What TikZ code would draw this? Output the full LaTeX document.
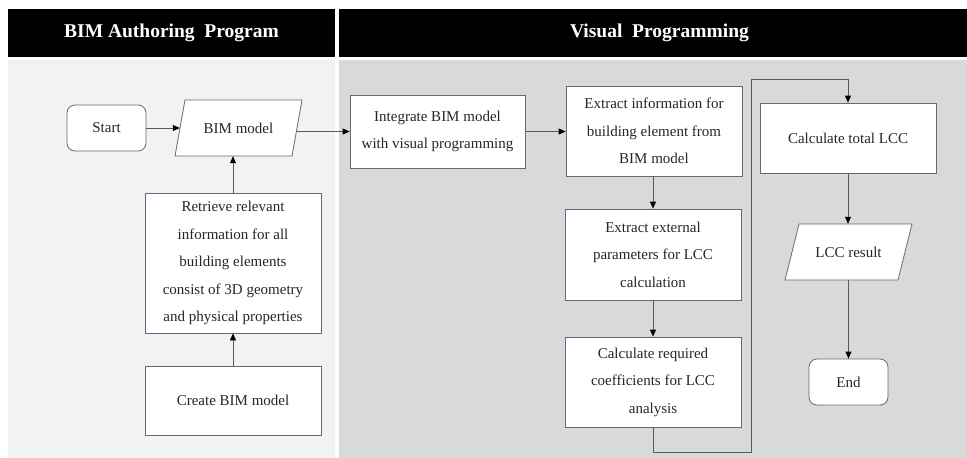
\documentclass[tikz,border=0pt]{standalone}
\usepackage{fontspec}
\setmainfont{Liberation Serif}
\usetikzlibrary{arrows.meta}
\definecolor{boxline}{HTML}{5B6B82}
\definecolor{linkline}{HTML}{595959}
\definecolor{leftbg}{HTML}{F2F2F2}
\definecolor{rightbg}{HTML}{D9D9D9}
\begin{document}
\begin{tikzpicture}[x=1pt,y=-1pt,
  every node/.style={font=\fontsize{15}{27.5}\selectfont, text=black!85},
  procbox/.style={draw=boxline, line width=0.8pt, fill=white, align=center, inner sep=0pt},
  termbox/.style={procbox, rounded corners=8pt},
  ioframe/.style={draw=boxline, line width=0.8pt, fill=white},
  iotext/.style={align=center, inner sep=0pt},
  link/.style={draw=linkline, line width=0.8pt, -{Triangle[length=7pt,width=6pt,color=black]}},
  headtext/.style={text=white, font=\bfseries\fontsize{19.5}{22}\selectfont}
]
% canvas and lane backgrounds
\fill[white] (0,0) rectangle (967,458);
\useasboundingbox (0,0) rectangle (967,458);
\fill[black] (8,9) rectangle (335,57);
\fill[black] (339,9) rectangle (967,57);
\fill[leftbg] (8,60) rectangle (335,458);
\fill[rightbg] (339,60) rectangle (967,458);
\node[headtext] (hleft) at (171.5,33) {BIM Authoring\ \ Program};
\node[headtext] (hright) at (659.5,33) {Visual\ \ Programming};

% BIM authoring lane
\node[termbox, minimum width=79, minimum height=46] (start) at (106.5,128) {Start};
\path[ioframe] (175,156) -- (185,100) -- (302,100) -- (292,156) -- cycle;
\node[iotext, minimum width=117, minimum height=56] (bim) at (238.5,128) {BIM model};
\node[procbox, minimum width=176, minimum height=140] (retrieve) at (233,263)
  {Retrieve relevant\\information for all\\building elements\\consist of 3D geometry\\and physical properties};
\node[procbox, minimum width=176, minimum height=69] (create) at (233,400.5) {Create BIM model};

% visual programming lane
\node[procbox, minimum width=175, minimum height=73] (integ) at (437.5,131.5)
  {Integrate BIM model\\with visual programming};
\node[procbox, minimum width=176, minimum height=90] (extinfo) at (654,131)
  {Extract information for\\building element from\\BIM model};
\node[procbox, minimum width=176, minimum height=91] (extpar) at (653,254.5)
  {Extract external\\parameters for LCC\\calculation};
\node[procbox, minimum width=176, minimum height=90] (calcreq) at (653,382)
  {Calculate required\\coefficients for LCC\\analysis};
\node[procbox, minimum width=176, minimum height=70] (calctot) at (848,138) {Calculate total LCC};
\path[ioframe] (785,280) -- (799,224) -- (912,224) -- (898,280) -- cycle;
\node[iotext, minimum width=113, minimum height=56] (result) at (848.5,252) {LCC result};
\node[termbox, minimum width=79, minimum height=46] (finish) at (848.5,382) {End};

% connectors
\coordinate (loopA) at (751,452);
\coordinate (loopB) at (751,79);
\draw[link] (start.east) -- (bim.west);
\draw[link] (create.north) -- (retrieve.south);
\draw[link] (retrieve.north) -- (retrieve.north |- bim.south);
\draw[link] (bim.east |- integ.west) -- (integ.west);
\draw[link] (integ.east) -- (extinfo.west |- integ.east);
\draw[link] (extinfo.south -| extpar.north) -- (extpar.north);
\draw[link] (extpar.south) -- (calcreq.north);
\draw[link] (calcreq.south) |- (loopA) -- (loopB) -| (calctot.north);
\draw[link] (calctot.south) -- (calctot.south |- result.north);
\draw[link] (result.south -| finish.north) -- (finish.north);
\end{tikzpicture}
\end{document}
